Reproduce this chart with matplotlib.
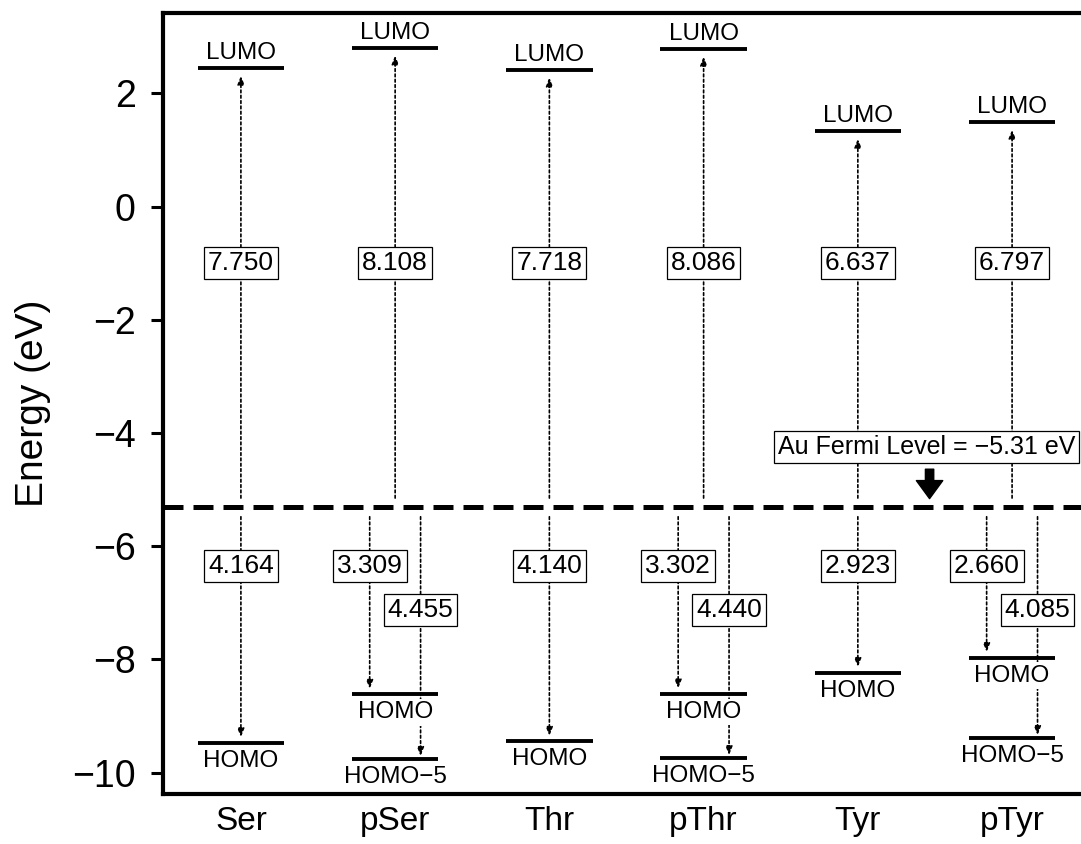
import matplotlib
matplotlib.use("Agg")
import matplotlib.pyplot as plt

plt.rcParams['font.family'] = ['Liberation Sans', 'DejaVu Sans']

# data
names = ['Ser', 'pSer', 'Thr', 'pThr', 'Tyr', 'pTyr']
fermi = -5.31
lumo_gap = [7.750, 8.108, 7.718, 8.086, 6.637, 6.797]
homo_gap = [4.164, 3.309, 4.140, 3.302, 2.923, 2.660]
homo5_gap = [None, 4.455, None, 4.440, None, 4.085]

fig = plt.figure(figsize=(10.81, 8.44), dpi=100)
ax = fig.add_axes([0.1508, 0.0598, 0.8575, 0.9248])
ax.set_xlim(-0.505, 5.505)
ax.set_ylim(-10.37, 3.42)

hw = 0.28      # half width of level bars
off = 0.165    # side offset when two arrows go down


def dotted_arrow(x, y0, y1):
    ax.annotate('', xy=(x, y1), xytext=(x, y0),
                arrowprops=dict(arrowstyle='-|>,head_length=0.5,head_width=0.2',
                                lw=1.2, ls=(0, (1.6, 1.6)), color='k',
                                shrinkA=0, shrinkB=0), zorder=2)


def gap_box(x, y, v):
    ax.text(x, y, f'{v:.3f}', ha='center', va='center', fontsize=19, zorder=5,
            bbox=dict(boxstyle='square,pad=0.15', fc='white', ec='black', lw=0.9))


def level(x, y, label, above):
    ax.hlines(y, x - hw, x + hw, color='k', lw=2.8, zorder=3)
    if above:
        ax.annotate(label, (x, y), xytext=(0, 3), textcoords='offset points',
                    ha='center', va='bottom', fontsize=17.5, zorder=4)
    else:
        ax.annotate(label, (x, y), xytext=(0, -5), textcoords='offset points',
                    ha='center', va='top', fontsize=17.5, zorder=4,
                    bbox=dict(boxstyle='square,pad=0.1', fc='white', ec='none'))


for i, name in enumerate(names):
    lumo = fermi + lumo_gap[i]
    homo = fermi - homo_gap[i]
    level(i, lumo, 'LUMO', True)
    level(i, homo, 'HOMO', False)
    dotted_arrow(i, fermi + 0.16, lumo - 0.13)
    gap_box(i, -1.0, lumo_gap[i])
    if homo5_gap[i] is None:
        dotted_arrow(i, fermi - 0.17, homo + 0.1)
        gap_box(i, -6.35, homo_gap[i])
    else:
        homo5 = fermi - homo5_gap[i]
        level(i, homo5, 'HOMO\u22125', False)
        dotted_arrow(i - off, fermi - 0.17, homo + 0.1)
        dotted_arrow(i + off, fermi - 0.17, homo5 + 0.06)
        gap_box(i - off, -6.35, homo_gap[i])
        gap_box(i + off, -7.13, homo5_gap[i])

# Au Fermi level
ax.axhline(fermi, color='k', lw=3.6, dashes=(4, 2), zorder=1)
ax.text(4.446, -4.25, 'Au Fermi Level = \u22125.31 eV', ha='center', va='center',
        fontsize=18, zorder=6,
        bbox=dict(boxstyle='square,pad=0.15', fc='white', ec='black', lw=0.9))
ax.annotate('', xy=(4.465, -5.16), xytext=(4.465, -4.64),
            arrowprops=dict(arrowstyle='simple,head_length=0.65,head_width=0.95,tail_width=0.3',
                            color='k', mutation_scale=20, shrinkA=0, shrinkB=0))

ax.set_xticks(range(len(names)))
ax.set_xticklabels(names)
ax.set_yticks([2, 0, -2, -4, -6, -8, -10])
ax.tick_params(axis='x', length=0, pad=9, labelsize=24)
ax.tick_params(axis='y', length=8.6, width=2.2, pad=11, labelsize=27)
ax.set_ylabel('Energy (eV)', fontsize=28)
ax.yaxis.set_label_coords(-0.121, 0.5)
for s in ax.spines.values():
    s.set_linewidth(3)

fig.savefig('out.png', dpi=100)
